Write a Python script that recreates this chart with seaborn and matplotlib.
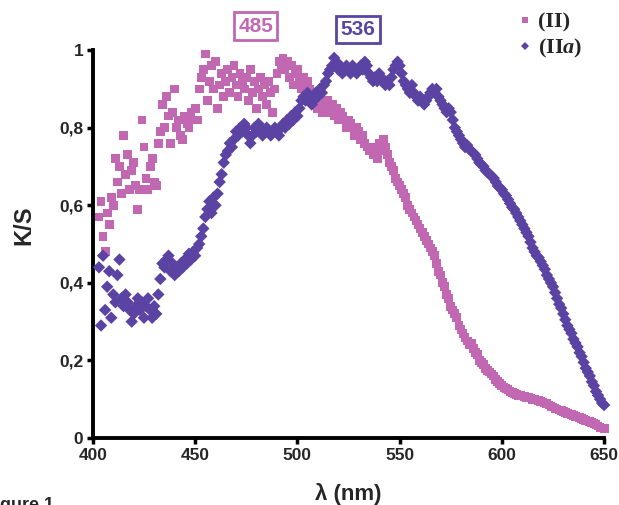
import matplotlib
matplotlib.use("Agg")
import matplotlib.pyplot as plt
import seaborn as sns
import pandas as pd

# wavelengths (nm), one reading per nm
wavelength = list(range(403, 651))

# sample (II)
ks_II = [
    0.57, 0.61, 0.52, 0.48, 0.58, 0.55, 0.62,
    0.60, 0.72, 0.66, 0.70, 0.63, 0.78, 0.68, 0.73, 0.64, 0.69,
    0.71, 0.65, 0.59, 0.64, 0.82, 0.75, 0.67, 0.64, 0.70, 0.72,
    0.66, 0.65, 0.76, 0.79, 0.86, 0.80, 0.88, 0.83, 0.76, 0.84,
    0.90, 0.80, 0.82, 0.78, 0.77, 0.83, 0.81, 0.80, 0.84, 0.82,
    0.85, 0.82, 0.90, 0.93, 0.95, 0.99, 0.87, 0.92, 0.96, 0.90,
    0.97, 0.85, 0.91, 0.94, 0.88, 0.92, 0.95, 0.89, 0.93, 0.96,
    0.91, 0.88, 0.94, 0.92, 0.90, 0.93, 0.87, 0.95, 0.89, 0.92,
    0.85, 0.90, 0.93, 0.88, 0.91, 0.86, 0.92, 0.89, 0.84, 0.90,
    0.94, 0.97, 0.96, 0.98, 0.95, 0.97, 0.93, 0.96, 0.91, 0.94,
    0.95, 0.92, 0.90, 0.93, 0.89, 0.92, 0.90, 0.87, 0.88, 0.86,
    0.85, 0.87, 0.84, 0.86, 0.85, 0.87, 0.84, 0.86, 0.83, 0.85,
    0.82, 0.84, 0.83, 0.82, 0.80, 0.82, 0.81, 0.80, 0.78, 0.80,
    0.79, 0.77, 0.78, 0.76, 0.75, 0.74, 0.75, 0.73, 0.74, 0.72,
    0.76, 0.74, 0.77, 0.75, 0.73, 0.71, 0.70, 0.69, 0.67, 0.66,
    0.65, 0.64, 0.63, 0.62, 0.60, 0.59, 0.58, 0.57, 0.56, 0.55,
    0.54, 0.53, 0.52, 0.51, 0.50, 0.49, 0.48, 0.47, 0.45, 0.43,
    0.42, 0.40, 0.39, 0.37, 0.36, 0.34, 0.33, 0.32, 0.31, 0.29,
    0.28, 0.27, 0.26, 0.25, 0.24, 0.245, 0.23, 0.22, 0.215, 0.20,
    0.195, 0.19, 0.18, 0.175, 0.17, 0.165, 0.16, 0.15, 0.145, 0.14,
    0.135, 0.13, 0.128, 0.125, 0.12, 0.118, 0.115, 0.113, 0.11, 0.11,
    0.108, 0.107, 0.105, 0.104, 0.103, 0.10, 0.10, 0.098, 0.097, 0.095,
    0.093, 0.09, 0.088, 0.085, 0.082, 0.08, 0.077, 0.075, 0.072, 0.07,
    0.068, 0.066, 0.064, 0.062, 0.06, 0.058, 0.056, 0.054, 0.052, 0.05,
    0.048, 0.046, 0.044, 0.042, 0.04, 0.037, 0.034, 0.031, 0.028, 0.026,
    0.024,
]

# sample (IIa)
ks_IIa = [
    0.44, 0.29, 0.47, 0.33, 0.39, 0.43, 0.31,
    0.37, 0.35, 0.42, 0.46, 0.36, 0.34, 0.37, 0.35, 0.33, 0.30,
    0.32, 0.34, 0.36, 0.33, 0.35, 0.31, 0.34, 0.36, 0.33, 0.31,
    0.34, 0.32, 0.37, 0.41, 0.45, 0.44, 0.46, 0.47, 0.43, 0.45,
    0.42, 0.44, 0.43, 0.45, 0.44, 0.46, 0.45, 0.475, 0.46, 0.48,
    0.47, 0.49, 0.50, 0.52, 0.54, 0.57, 0.59, 0.61, 0.58, 0.62,
    0.60, 0.63, 0.66, 0.68, 0.71, 0.73, 0.74, 0.76, 0.75, 0.77,
    0.79, 0.78, 0.80, 0.79, 0.81, 0.80, 0.78, 0.76, 0.78, 0.80,
    0.79, 0.81, 0.80, 0.78, 0.79, 0.80, 0.79, 0.78, 0.79, 0.80,
    0.79, 0.78, 0.80, 0.81, 0.80, 0.82, 0.81, 0.83, 0.82, 0.84,
    0.83, 0.85, 0.87, 0.88, 0.87, 0.89, 0.88, 0.86, 0.87, 0.89,
    0.88, 0.90, 0.89, 0.91, 0.92, 0.94, 0.95, 0.96, 0.98, 0.97,
    0.95, 0.96, 0.94, 0.95, 0.96, 0.95, 0.94, 0.96, 0.95, 0.94,
    0.95, 0.96, 0.95, 0.97, 0.96, 0.94, 0.93, 0.92, 0.93, 0.92,
    0.94, 0.93, 0.92, 0.91, 0.92, 0.91, 0.93, 0.95, 0.96, 0.97,
    0.96, 0.94, 0.92, 0.91, 0.90, 0.89, 0.91, 0.89, 0.88, 0.87,
    0.88, 0.87, 0.86, 0.87, 0.88, 0.89, 0.90, 0.89, 0.90, 0.88,
    0.87, 0.86, 0.85, 0.84, 0.85, 0.84, 0.82, 0.80, 0.79, 0.78,
    0.77, 0.76, 0.75, 0.755, 0.745, 0.74, 0.735, 0.73, 0.72, 0.71,
    0.705, 0.70, 0.69, 0.685, 0.68, 0.675, 0.67, 0.66, 0.65, 0.645,
    0.64, 0.63, 0.625, 0.615, 0.605, 0.595, 0.59, 0.58, 0.57, 0.56,
    0.55, 0.54, 0.53, 0.52, 0.505, 0.49, 0.48, 0.47, 0.465, 0.455,
    0.445, 0.435, 0.42, 0.41, 0.40, 0.39, 0.375, 0.36, 0.345, 0.335,
    0.32, 0.305, 0.29, 0.28, 0.27, 0.255, 0.245, 0.235, 0.22, 0.21,
    0.195, 0.18, 0.17, 0.16, 0.145, 0.135, 0.12, 0.11, 0.10, 0.09,
    0.085,
]

x_ticks = [400, 450, 500, 550, 600, 650]
y_ticks = [0, 0.2, 0.4, 0.6, 0.8, 1]
y_tick_labels = ["0", "0,2", "0,4", "0,6", "0,8", "1"]

pink = "#c268b2"
purple = "#5b43a3"

df = pd.concat([
    pd.DataFrame({"lam": wavelength, "ks": ks_II, "sample": "(II)"}),
    pd.DataFrame({"lam": wavelength, "ks": ks_IIa, "sample": "(IIa)"}),
])

sns.set_style("white")
plt.rcParams["font.family"] = ["Liberation Sans", "DejaVu Sans"]
plt.rcParams["mathtext.fontset"] = "custom"
plt.rcParams["mathtext.it"] = "Liberation Serif:italic:bold"

fig = plt.figure(figsize=(6.19, 5.05), dpi=100)
ax = fig.add_axes([0.150, 0.1327, 0.826, 0.768])

sns.scatterplot(data=df, x="lam", y="ks", hue="sample", style="sample",
                palette={"(II)": pink, "(IIa)": purple},
                markers={"(II)": "s", "(IIa)": "D"},
                s=40, linewidth=0, ax=ax, clip_on=False, zorder=3)

ax.set_xlim(400, 650)
ax.set_ylim(0, 1)
ax.set_xticks(x_ticks)
ax.set_xticklabels([str(t) for t in x_ticks])
ax.set_yticks(y_ticks)
ax.set_yticklabels(y_tick_labels)
for lbl in ax.get_xticklabels() + ax.get_yticklabels():
    lbl.set_fontweight("bold")
ax.tick_params(axis="both", direction="out", length=4, width=2.5,
               labelsize=12.5, color="black", pad=3, left=True, bottom=True)
ax.set_xlabel("")
ax.set_ylabel("")
sns.despine(ax=ax)
for side in ["left", "bottom"]:
    ax.spines[side].set_linewidth(2.8)
    ax.spines[side].set_color("black")

fig.text(24 / 619, 1 - 225 / 505, "K/S", rotation=90, ha="center", va="center",
         fontsize=17, fontweight="bold")
fig.text(348 / 619, 1 - 494 / 505, "λ (nm)", ha="center", va="center",
         fontsize=16, fontweight="bold")
fig.text(-16 / 619, -5 / 505, "Figure 1", ha="left", va="baseline",
         fontsize=13, fontweight="bold")

# peak labels
ax.text(479.7, 1.062, "485", ha="center", va="center", fontsize=15,
        fontweight="bold", color=pink, clip_on=False,
        bbox=dict(boxstyle="square,pad=0.2", fc="white", ec=pink, lw=2))
ax.text(529.6, 1.054, "536", ha="center", va="center", fontsize=15,
        fontweight="bold", color=purple, clip_on=False,
        bbox=dict(boxstyle="square,pad=0.2", fc="white", ec=purple, lw=2))

handles, labels = ax.get_legend_handles_labels()
ax.legend(handles, ["(II)", "(II$\\mathit{a}$)"], loc="upper left",
          bbox_to_anchor=(518 / 619, 1 - 12 / 505), bbox_transform=fig.transFigure,
          frameon=False, handlelength=0.6, handletextpad=0.3, markerscale=0.6,
          labelspacing=0.2, borderaxespad=0, borderpad=0,
          prop={"family": "Liberation Serif", "weight": "bold", "size": 16})

fig.savefig("out.png", dpi=100)
